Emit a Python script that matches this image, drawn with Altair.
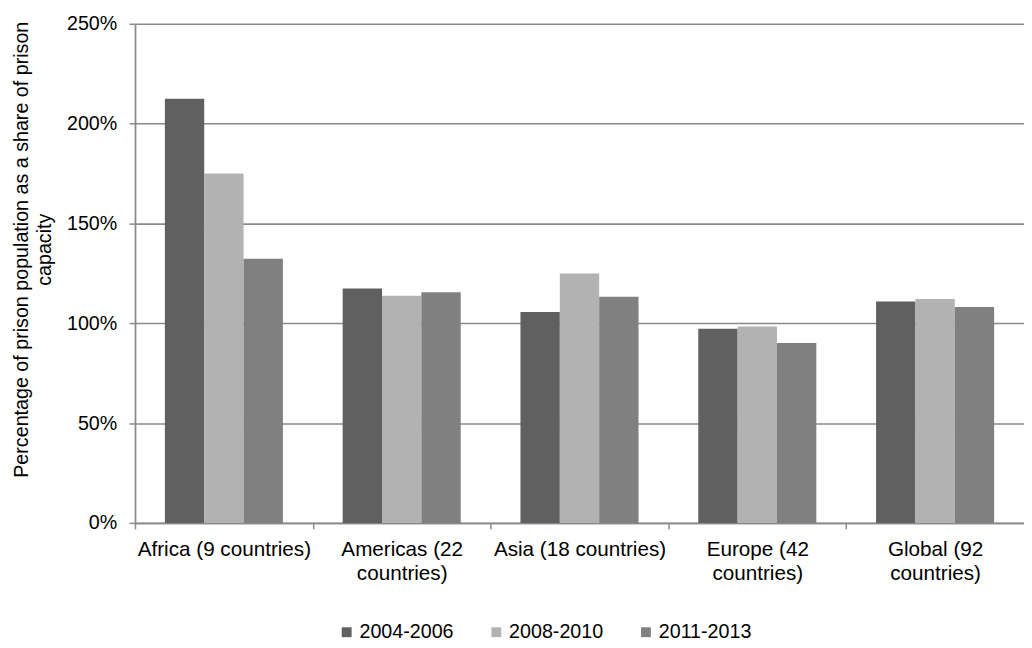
import altair as alt
import pandas as pd

regions = ["Africa (9 countries)", "Americas (22 countries)", "Asia (18 countries)",
           "Europe (42 countries)", "Global (92 countries)"]
periods = ["2004-2006", "2008-2010", "2011-2013"]
p2004 = [212.5, 117.4, 105.6, 97.2, 110.9]
p2008 = [175.0, 113.8, 124.9, 98.4, 112.2]
p2011 = [132.3, 115.6, 113.3, 90.1, 108.2]
colors = ["#606060", "#b2b2b2", "#808080"]
y_ticks = [0, 0.5, 1.0, 1.5, 2.0, 2.5]

rows = []
for series, vals in zip(periods, [p2004, p2008, p2011]):
    for r, v in zip(regions, vals):
        rows.append({"region": r, "period": series, "value": v / 100})
df = pd.DataFrame(rows)

FONT = "Liberation Sans"
GRID = "#8a8a8a"
W = 903
STEP = W / 5.0

label_expr = ("indexof(datum.label, 'Africa') == 0 || indexof(datum.label, 'Asia') == 0 ? datum.label : "
              "split(replace(datum.label, ' countries)', '|countries)'), '|')")

chart = alt.Chart(df).mark_bar().encode(
    x=alt.X("region:N", sort=regions, title=None,
            scale=alt.Scale(paddingInner=0.336, paddingOuter=0.168),
            axis=alt.Axis(labelAngle=0, labelExpr=label_expr, labelFontSize=21,
                          labelLineHeight=24, labelPadding=10, labelLimit=400,
                          labelColor="#000000", labelBaseline="top",
                          tickOffset=-STEP / 2, labelOffset=STEP / 2,
                          ticks=True, tickSize=6, tickColor=GRID,
                          tickWidth=1.5, domainColor=GRID, domainWidth=1.8, grid=False)),
    xOffset=alt.XOffset("period:N", sort=periods, scale=alt.Scale(paddingInner=0, paddingOuter=0)),
    y=alt.Y("value:Q", scale=alt.Scale(domain=[0, 2.5], nice=False),
            axis=alt.Axis(values=y_ticks, format=".0%", labelFontSize=20, labelColor="#000000",
                          labelPadding=12.5, tickSize=6, tickColor=GRID, tickWidth=1.5,
                          domainColor=GRID, domainWidth=1.8, grid=True, gridColor=GRID,
                          gridWidth=1.6,
                          title=["Percentage of prison population as a share of prison", "capacity"],
                          titleFontSize=20, titleFontWeight="normal", titleColor="#000000",
                          titleAngle=270, titleAlign="center", titleBaseline="top",
                          titleLineHeight=24, titleX=-125.5, titleY=229)),
    color=alt.Color("period:N", sort=periods,
                    scale=alt.Scale(domain=periods, range=colors),
                    legend=alt.Legend(title=None, orient="none", direction="horizontal",
                                      legendX=205, legendY=608, symbolType="square",
                                      symbolSize=100, symbolStrokeWidth=0, labelFontSize=20,
                                      labelColor="#000000", labelOffset=3, columnPadding=33,
                                      padding=0)),
).properties(
    width=W, height=507,
    padding={"left": 129, "top": 11, "right": 0, "bottom": 122},
    autosize=alt.AutoSizeParams(type="none"),
).configure(font=FONT).configure_view(stroke=None)

chart.save("out.html", embed_options={"renderer": "svg", "actions": False})
